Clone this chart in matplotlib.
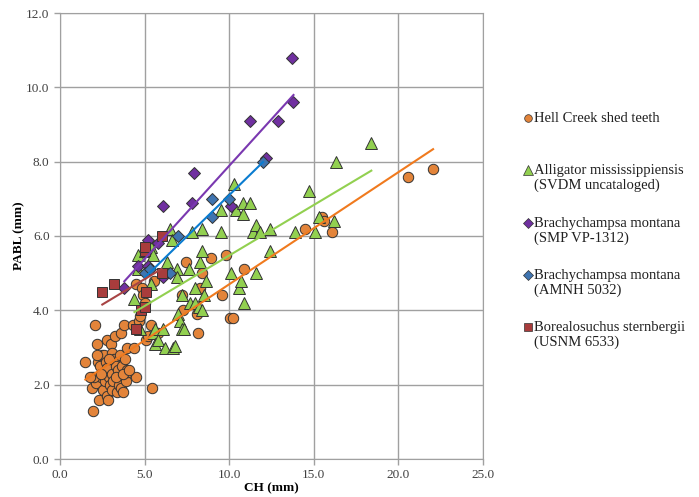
import numpy as np
import matplotlib
matplotlib.use('Agg')
import matplotlib.pyplot as plt
from matplotlib.lines import Line2D

plt.rcParams['font.family'] = ['Liberation Serif', 'DejaVu Serif']

# Hell Creek shed teeth
hc_x = [1.5, 1.9, 1.9, 1.95, 2.05, 2.1, 2.2, 2.25, 2.3, 2.35, 2.45, 2.5, 2.55, 2.6, 2.65,
        2.7, 2.75, 2.8, 2.8, 2.85, 2.9, 2.95, 3.0, 3.05, 3.05, 3.1, 3.15, 3.2, 3.25, 3.3,
        3.35, 3.4, 3.45, 3.5, 3.55, 3.6, 3.6, 3.65, 3.7, 3.8, 3.85, 3.9, 3.95, 3.95, 4.0,
        4.3, 4.4, 4.5, 4.5, 4.55, 4.65, 4.7, 4.85, 4.9, 5.0, 5.1, 5.2, 5.4, 5.45, 5.55,
        5.8, 2.0, 2.4, 2.9, 3.3, 1.8, 2.2, 3.7, 4.1,
        7.2, 7.25, 7.45, 8.1, 8.15, 8.3, 8.4, 8.95, 9.6, 9.8, 10.05, 10.2, 10.85,
        14.5, 15.5, 15.6, 16.05, 20.55, 22.05]
hc_y = [2.6, 2.2, 1.9, 1.3, 3.6, 2.05, 3.1, 2.6, 1.6, 2.5, 2.2, 2.8, 1.85, 2.8, 2.1,
        2.6, 1.7, 3.2, 2.45, 1.6, 2.2, 2.0, 3.1, 2.85, 1.85, 2.3, 2.1, 2.7, 3.3, 2.5,
        1.8, 2.25, 2.4, 2.0, 2.8, 3.4, 1.9, 2.5, 1.8, 3.6, 2.7, 2.1, 3.0, 2.4, 2.35,
        3.6, 3.0, 2.2, 4.7, 3.5, 3.7, 3.85, 4.6, 4.4, 4.2, 3.2, 3.3, 3.6, 1.9, 4.8,
        3.4, 2.2, 2.3, 2.7, 2.2, 2.2, 2.8, 2.3, 2.4,
        4.4, 4.0, 5.3, 3.9, 3.4, 4.6, 5.0, 5.4, 4.4, 5.5, 3.8, 3.8, 5.1,
        6.2, 6.5, 6.4, 6.1, 7.6, 7.8]

# Alligator mississippiensis (SVDM uncataloged)
am_x = [4.4, 4.6, 4.6, 4.7, 5.0, 5.4, 5.5, 5.4, 5.5, 5.6, 5.6, 5.8, 6.1, 6.2, 6.3,
        6.5, 6.6, 6.7, 6.8, 6.9, 6.9, 7.0, 7.1, 7.2, 7.3, 7.2, 7.6, 7.7, 7.8, 8.0,
        8.0, 8.2, 8.3, 8.4, 8.4, 8.4, 8.5, 8.6, 9.5, 9.5, 10.1, 10.3, 10.4, 10.6, 10.7,
        10.8, 10.8, 10.9, 11.2, 11.4, 11.6, 11.6, 11.8, 12.4, 12.4, 13.9, 14.7, 15.1,
        15.3, 16.2, 16.3, 18.4]
am_y = [4.3, 5.5, 5.1, 3.5, 5.6, 5.7, 5.5, 4.7, 3.4, 3.5, 3.1, 3.2, 3.5, 3.0, 5.3,
        6.2, 5.9, 3.0, 3.05, 5.1, 4.9, 3.9, 3.7, 3.5, 3.5, 4.4, 5.1, 4.2, 6.1, 4.6,
        4.2, 4.1, 5.3, 5.6, 6.2, 4.0, 4.4, 4.8, 6.1, 6.7, 5.0, 7.4, 6.7, 4.6, 4.8,
        6.6, 6.9, 4.2, 6.9, 6.1, 5.0, 6.3, 6.1, 6.2, 5.6, 6.1, 7.2, 6.1,
        6.5, 6.4, 8.0, 8.5]

# Brachychampsa montana (SMP VP-1312)
bs_x = [3.8, 4.6, 5.2, 5.2, 5.8, 6.1, 6.1, 7.8, 7.9, 10.1, 11.2, 12.2, 12.9, 13.7, 13.8]
bs_y = [4.6, 5.2, 5.2, 5.9, 5.8, 4.9, 6.8, 6.9, 7.7, 6.8, 9.1, 8.1, 9.1, 10.8, 9.6]

# Brachychampsa montana (AMNH 5032)
ba_x = [5.0, 5.3, 6.5, 7.0, 9.0, 9.0, 10.0, 12.0]
ba_y = [5.0, 5.1, 5.0, 6.0, 6.5, 7.0, 7.0, 8.0]

# Borealosuchus sternbergii (USNM 6533)
bo_x = [2.5, 3.2, 4.5, 4.8, 5.0, 5.1, 5.0, 5.0, 6.0, 6.0]
bo_y = [4.5, 4.7, 3.5, 4.0, 4.1, 4.5, 5.6, 5.7, 5.0, 6.0]

series = [
    ('Hell Creek shed teeth', hc_x, hc_y, 'o', '#E3843A', '#F07A1E', 7.5),
    ('Alligator mississippiensis\n(SVDM uncataloged)', am_x, am_y, '^', '#92D050', '#92D050', 8.5),
    ('Brachychampsa montana\n(SMP VP-1312)', bs_x, bs_y, 'D', '#7030A0', '#7A38B0', 6.5),
    ('Brachychampsa montana\n(AMNH 5032)', ba_x, ba_y, 'D', '#3F74B0', '#0A7CD0', 6.5),
    ('Borealosuchus sternbergii\n(USNM 6533)', bo_x, bo_y, 's', '#A83C3C', '#A84444', 6.5),
]

fig = plt.figure(figsize=(6.99, 4.97), dpi=100)
ax = fig.add_axes([60 / 699, 1 - 459 / 497, 423 / 699, 446 / 497])

for label, xs, ys, mk, fc, lc, ms in series:
    ax.plot(xs, ys, linestyle='none', marker=mk, markersize=ms, markerfacecolor=fc,
            markeredgecolor='#333333', markeredgewidth=0.7, zorder=3)

# linear trendlines over each data range
for label, xs, ys, mk, fc, lc, ms in series:
    k, b = np.polyfit(xs, ys, 1)
    xx = np.array([min(xs), max(xs)])
    ax.plot(xx, k * xx + b, color=lc, linewidth=1.5, zorder=4)

ax.set_xlim(0, 25)
ax.set_ylim(0, 12)
ax.set_xticks(np.arange(0, 26, 5))
ax.set_yticks(np.arange(0, 13, 2))
ax.set_xticklabels([f'{v:.1f}' for v in np.arange(0, 26, 5)])
ax.set_yticklabels([f'{v:.1f}' for v in np.arange(0, 13, 2)])
ax.tick_params(labelsize=9.5, colors='#404040', length=4, color='#A0A0A0', width=1)
ax.grid(True, color='#A0A0A0', linewidth=1)
ax.set_axisbelow(True)
for s in ax.spines.values():
    s.set_color('#A0A0A0')
ax.set_xlabel('CH (mm)', fontsize=9.5, fontweight='bold', labelpad=0.5)
ax.set_ylabel('PABL (mm)', fontsize=9.5, fontweight='bold', labelpad=1)

# legend on the right
row_y = [118, 170, 223, 275, 327]
for (label, xs, ys, mk, fc, lc, ms), ry in zip(series, row_y):
    fy = 1 - ry / 497
    fig.add_artist(Line2D([528 / 699], [fy], marker=mk, markersize=5.5 if mk != '^' else 6.5,
                          markerfacecolor=fc, markeredgecolor='#333333', markeredgewidth=0.5,
                          linestyle='none', transform=fig.transFigure))
    fig.text(534 / 699, fy + 6 / 497, label, fontsize=10.5, va='top', ha='left',
             color='#202020', linespacing=1.15)

fig.savefig('out.png', dpi=100)
